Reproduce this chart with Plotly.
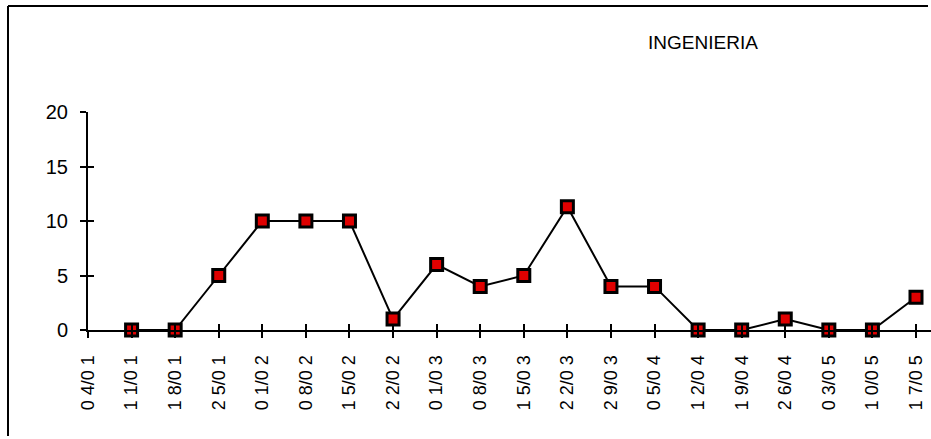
import plotly.graph_objects as go

# Weekly dates (dd/mm) and counts for INGENIERIA
weeks = ["04/01", "11/01", "18/01", "25/01", "01/02", "08/02", "15/02", "22/02",
         "01/03", "08/03", "15/03", "22/03", "29/03", "05/04", "12/04", "19/04",
         "26/04", "03/05", "10/05", "17/05"]
counts = [None, 0, 0, 5, 10, 10, 10, 1, 6, 4, 5, 11.3, 4, 4, 0, 0, 1, 0, 0, 3]
y_ticks = [0, 5, 10, 15, 20]

# tick labels are drawn with the wide digit spacing of the original sheet
def spaced(label):
    d, m = label.split("/")
    return f"{d[0]} {d[1]}/{m[0]} {m[1]}"

tick_text = [spaced(w) for w in weeks]
FONT = "Liberation Sans, Arial, sans-serif"

W, H = 931, 439
L, R, T, B = 88, 0, 112, 109
pw, ph = W - L - R, H - T - B
x_end = pw / (828 / 19)   # 19 category steps span 828 px


def px_x(px):
    """page pixel column -> paper x"""
    return (px - L) / pw


def px_y(py):
    """page pixel row -> paper y"""
    return (H - B - py) / ph


fig = go.Figure()
fig.add_trace(go.Scatter(
    x=list(range(len(weeks))), y=counts, mode="lines+markers",
    line=dict(color="black", width=2),
    marker=dict(symbol="square", size=12, color="#e00000",
                line=dict(color="black", width=3)),
    cliponaxis=False, connectgaps=False, showlegend=False,
))
# invisible trace on the overlay axes so their inner ticks are drawn
fig.add_trace(go.Scatter(x=[0], y=[0], xaxis="x2", yaxis="y2", mode="markers",
                         marker=dict(opacity=0), showlegend=False, hoverinfo="skip"))

fig.update_layout(
    width=W, height=H,
    margin=dict(l=L, r=R, t=T, b=B, pad=0),
    paper_bgcolor="white", plot_bgcolor="white",
    font=dict(family=FONT, color="black", size=17),
    title=dict(text="INGENIERIA", x=703 / W, y=1 - 42 / H, xanchor="center",
               yanchor="middle", font=dict(family=FONT, size=19, color="black")),
    xaxis=dict(
        range=[0, x_end], tickmode="array", tickvals=list(range(len(weeks))),
        ticktext=tick_text, tickangle=-90, ticks="outside", ticklen=6,
        tickwidth=2, tickcolor="black", showline=True, linecolor="black",
        linewidth=2, showgrid=False, zeroline=False, ticklabelstandoff=10,
        tickfont=dict(family=FONT, size=18),
    ),
    xaxis2=dict(
        range=[0, x_end], overlaying="x", anchor="y", side="bottom",
        tickmode="array", tickvals=list(range(len(weeks))), showticklabels=False,
        ticks="inside", ticklen=6, tickwidth=2, tickcolor="black",
        showline=False, showgrid=False, zeroline=False,
    ),
    yaxis=dict(
        range=[0, 20], tickmode="array", tickvals=y_ticks, ticks="outside",
        ticklen=6, tickwidth=2, tickcolor="black", showline=True,
        linecolor="black", linewidth=2, showgrid=False, zeroline=False,
        ticklabelstandoff=8, tickfont=dict(family=FONT, size=20),
    ),
    yaxis2=dict(
        range=[0, 20], overlaying="y", anchor="x", side="left",
        tickmode="array", tickvals=y_ticks, showticklabels=False,
        ticks="inside", ticklen=6, tickwidth=2, tickcolor="black",
        showline=False, showgrid=False, zeroline=False,
    ),
    shapes=[
        # chart frame: left and top edges, kept inside the page
        dict(type="line", xref="paper", yref="paper",
             x0=px_x(8), x1=px_x(8), y0=px_y(6), y1=px_y(436),
             line=dict(color="black", width=2)),
        dict(type="line", xref="paper", yref="paper",
             x0=px_x(8), x1=px_x(928), y0=px_y(6), y1=px_y(6),
             line=dict(color="black", width=2)),
    ],
)

fig.write_html("out.html")
